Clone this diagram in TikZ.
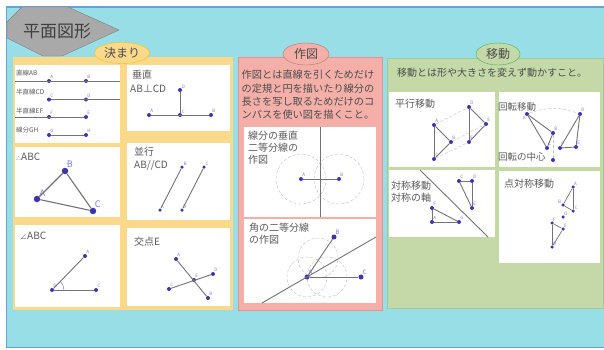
\documentclass[tikz,border=0pt]{standalone}
\usepackage{fontspec}
\setmainfont{Noto Sans CJK JP}
\usetikzlibrary{shapes.geometric}

\definecolor{seabg}{HTML}{97DEE6}
\definecolor{seaedge}{HTML}{5FA3E0}
\definecolor{yellowbg}{HTML}{FBD98A}
\definecolor{pinkbg}{HTML}{F4AFA9}
\definecolor{pinkedge}{HTML}{E8918C}
\definecolor{greenbg}{HTML}{C4D9A7}
\definecolor{greenedge}{HTML}{9CCB9C}
\definecolor{dotblue}{HTML}{3F34B0}
\definecolor{lblblue}{HTML}{7C78EC}
\definecolor{inkgray}{HTML}{5A5A5A}
\definecolor{hexgray}{HTML}{A9A9A9}

\begin{document}
\begin{tikzpicture}[x=1pt,y=-1pt]
            \tikzstyle{card}=[fill=white]
            \tikzstyle{txt}=[inner sep=0,anchor=west,text=inkgray,font=\fontsize{10}{12}\selectfont]
            \tikzstyle{rot}=[txt,font=\fontsize{9.5}{11}\selectfont]
            \tikzstyle{small}=[inner sep=0,anchor=west,text=inkgray,font=\fontsize{6.5}{8}\selectfont]
            \tikzstyle{body}=[inner sep=0,anchor=west,text=black!70,font=\fontsize{10.2}{12}\selectfont]
            \tikzstyle{oval}=[ellipse,inner sep=0,text=black!70,font=\fontsize{12}{14}\selectfont]
            \tikzstyle{lbl}=[inner sep=0,text=lblblue,font=\fontsize{4.5}{5}\selectfont]
            \tikzstyle{big}=[inner sep=0,text=lblblue,font=\fontsize{9}{10}\selectfont]
            \tikzstyle{mid}=[inner sep=0,text=lblblue,font=\fontsize{6}{7}\selectfont]
            \tikzstyle{dot}=[circle,fill=dotblue,inner sep=0,minimum size=4pt,label distance=1pt]
            \tikzstyle{fat}=[dot,minimum size=6.5pt]
            \tikzstyle{tiny}=[dot,minimum size=3.5pt]
            \tikzstyle{seg}=[draw=gray!90!black,line width=0.9pt]
            \tikzstyle{guide}=[draw=gray!50,line width=0.4pt,densely dashed]

            \useasboundingbox (0,0) rectangle (604,349);
            \fill[white] (0,0) rectangle (604,349);
            \draw[fill=seabg,draw=seaedge,line width=1.5pt] (6.5,7) rectangle (610,347.5);

            % title
            \draw[fill=hexgray,draw=gray,line width=0.4pt]
                (7,22) -- (22,7) -- (68,7) -- (119,30) -- (62,56) -- (43,56) -- (7,38) -- cycle;
            \node[inner sep=0,text=black!75,font=\fontsize{17}{19}\selectfont] (title) at (57,31) {平面図形};

            % panels
            \fill[yellowbg] (13,57) rectangle (233,310);
            \draw[fill=pinkbg,draw=pinkedge,line width=0.8pt] (238,57) rectangle (382,310);
            \draw[fill=greenbg,draw=greenedge,line width=0.8pt] (387,58) rectangle (603,308);

            \node[oval,fill=yellowbg,draw=orange!50!yellow,minimum width=55pt,minimum height=21pt] (rule) at (122,53) {決まり};
            \node[oval,fill=pinkbg,draw=pinkedge!80!black,minimum width=46pt,minimum height=22pt] (draft) at (306,54) {作図};
            \node[oval,fill=greenbg,draw=green!40!gray,minimum width=44pt,minimum height=22pt] (move) at (498,54) {移動};

            % cards
            \fill[card] (15,65) rectangle (120,143);
            \fill[card] (127,65) rectangle (230,131);
            \fill[card] (15,147) rectangle (120,217);
            \fill[card] (127,143) rectangle (230,220);
            \fill[card] (15,225) rectangle (120,307);
            \fill[card] (127,228) rectangle (230,306);
            \fill[card] (244,127) rectangle (376,217);
            \fill[card] (244,219) rectangle (376,303);
            \fill[card] (389,92) rectangle (495,167);
            \fill[card] (499,92) rectangle (600,167);
            \fill[card] (389,170) rectangle (495,237);
            \fill[card] (499,171) rectangle (600,263);

            % lines, rays, segments
            \node[small] (t1) at (16,73) {直線AB};
            \node[small] (t2) at (16,92) {半直線CD};
            \node[small] (t3) at (16,111) {半直線EF};
            \node[small] (t4) at (16,130) {線分GH};
            \coordinate (l1a) at (15,81);
            \coordinate (l1b) at (120,81);
            \coordinate (l2b) at (120,99.5);
            \coordinate (l3a) at (15,117);
            \node[dot,label={[lbl]60:A}] (a1) at (49,81) {};
            \node[dot,label={[lbl]60:B}] (b1) at (86,81) {};
            \node[dot,label={[lbl]60:C}] (c1) at (49,99.5) {};
            \node[dot,label={[lbl]60:D}] (d1) at (86,99.5) {};
            \node[dot,label={[lbl]60:F}] (f1) at (49,117) {};
            \node[dot,label={[lbl]60:E}] (e1) at (86,117) {};
            \node[dot,label={[lbl]60:G}] (g1) at (49,135) {};
            \node[dot,label={[lbl]60:H}] (h1) at (86,135) {};
            \path[seg]
                (l1a) edge (l1b)
                (c1) edge (l2b)
                (l3a) edge (e1)
                (g1) edge (h1)
                ;

            % perpendicular
            \node[txt] (t5) at (132,75) {垂直};
            \node[txt] (t6) at (130,89) {AB⊥CD};
            \node[dot,label={[lbl]45:D}] (d2) at (180,90) {};
            \node[dot,label={[lbl]45:C}] (c2) at (180,115) {};
            \node[dot,label={[lbl]60:A}] (a2) at (149,115) {};
            \node[dot,label={[lbl]60:B}] (b2) at (211,115) {};
            \path[seg]
                (a2) edge (b2)
                (d2) edge (c2)
                ;

            % triangle
            \node[txt] (t7) at (16,157) {{\fontsize{5}{5}\selectfont △}ABC};
            \node[fat,label={[big]45:A}] (a3) at (37,199) {};
            \node[fat,label={[big]60:B}] (b3) at (65,171) {};
            \node[fat,label={[big]60:C}] (c3) at (93,211) {};
            \path[seg,line width=1.1pt]
                (a3) edge (b3)
                (b3) edge (c3)
                (c3) edge (a3)
                ;

            % parallel
            \node[txt] (t8) at (134,152) {並行};
            \node[txt] (t9) at (134,165) {AB//CD};
            \node[tiny,label={[lbl]45:B}] (b4) at (182,167) {};
            \node[tiny,label={[lbl]45:C}] (c4) at (204,167) {};
            \node[tiny,label={[lbl]60:A}] (a4) at (160,210) {};
            \node[tiny,label={[lbl]60:D}] (d4) at (182,210) {};
            \path[seg]
                (a4) edge (b4)
                (d4) edge (c4)
                ;

            % angle
            \node[txt] (t10) at (20,236) {{\fontsize{7}{7}\selectfont ∠}ABC};
            \node[dot,label={[lbl]60:A}] (a5) at (85,256) {};
            \node[dot,label={[lbl]60:B}] (b5) at (52,290) {};
            \node[dot,label={[lbl]60:C}] (c5) at (96,290) {};
            \path[seg]
                (b5) edge (a5)
                (b5) edge (c5)
                ;
            \draw[lblblue,line width=0.5pt] (64,290) arc[start angle=0,end angle=48,radius=12pt];

            % intersection
            \node[txt] (t11) at (134,242) {交点E};
            \node[dot,label={[lbl]60:A}] (a6) at (176,259) {};
            \node[dot,label={[lbl]60:B}] (b6) at (208,298) {};
            \node[dot,label={[lbl]60:C}] (c6) at (169,289) {};
            \node[dot,label={[lbl]60:D}] (d6) at (213,274) {};
            \node[dot,label={[lbl]60:E}] (e6) at (194,280) {};
            \path[seg]
                (a6) edge (b6)
                (c6) edge (d6)
                ;

            % construction text
            \node[body] (t12) at (241.5,75) {作図とは直線を引くためだけ};
            \node[body] (t13) at (241.5,88.5) {の定規と円を描いたり線分の};
            \node[body] (t14) at (241.5,102) {長さを写し取るためだけのコ};
            \node[body] (t15) at (241.5,115) {ンパスを使い図を描くこと。};

            % perpendicular bisector
            \node[txt] (t16) at (248,136) {線分の垂直};
            \node[txt] (t17) at (248,148) {二等分線の};
            \node[txt] (t18) at (248,160) {作図};
            \draw[guide] (301,179) circle (25pt) (339,179) circle (25pt);
            \coordinate (v1) at (320,127);
            \coordinate (v2) at (320,217);
            \node[dot,label={[lbl]60:A}] (a7) at (301,179) {};
            \node[dot,label={[lbl]60:B}] (b7) at (339,179) {};
            \path[seg]
                (v1) edge (v2)
                (a7) edge (b7)
                ;

            % angle bisector
            \node[txt] (t19) at (249,228) {角の二等分線};
            \node[txt] (t20) at (249,240) {の作図};
            \draw[guide] (307,277) circle (20pt) (318,258) circle (20pt) (327,277) circle (20pt);
            \coordinate (w1) at (262,303);
            \coordinate (w2) at (376,237);
            \node[dot,minimum size=5pt,label={[mid]60:A}] (a8) at (307,277) {};
            \node[dot,minimum size=5pt,label={[mid]60:B}] (b8) at (334,237) {};
            \node[dot,minimum size=5pt,label={[mid]60:C}] (c8) at (361,277) {};
            \path[seg]
                (a8) edge (b8)
                (a8) edge (c8)
                (w1) edge (w2)
                ;

            % moving text
            \node[body,font=\fontsize{10}{12}\selectfont] (t21) at (397,73) {移動とは形や大きさを変えず動かすこと。};

            % translation
            \node[txt] (t22) at (395,104) {平行移動};
            \node[dot,label={[lbl]60:A}] (a9) at (434,125) {};
            \node[dot,label={[lbl]60:B}] (b9) at (451,142) {};
            \node[dot,label={[lbl]60:C}] (c9) at (434,159) {};
            \node[dot,label={[lbl]60:D}] (d9) at (469,107) {};
            \node[dot,label={[lbl]60:E}] (e9) at (486,124) {};
            \node[dot,label={[lbl]60:F}] (f9) at (469,142) {};
            \path[seg]
                (a9) edge (b9)
                (b9) edge (c9)
                (c9) edge (a9)
                (d9) edge (e9)
                (e9) edge (f9)
                (f9) edge (d9)
                ;
            \path[guide]
                (a9) edge (d9)
                (b9) edge (e9)
                (c9) edge (f9)
                ;

            % rotation
            \node[rot] (t23) at (498,107) {回転移動};
            \node[rot] (t24) at (498,157) {回転の中心};
            \node[dot,label={[lbl]-120:A}] (a10) at (527,114) {};
            \node[dot,label={[lbl]60:B}] (b10) at (553,133) {};
            \node[dot,label={[lbl]60:C}] (c10) at (547,148) {};
            \node[dot] (o10) at (553,160) {};
            \node[dot,label={[lbl]60:D}] (d10) at (580,114) {};
            \node[dot,label={[lbl]60:E}] (e10) at (576,147) {};
            \node[dot,label={[lbl]60:F}] (f10) at (560,148) {};
            \path[seg]
                (a10) edge (b10)
                (b10) edge (c10)
                (c10) edge (a10)
                (d10) edge (e10)
                (e10) edge (f10)
                (f10) edge (d10)
                ;
            \path[guide]
                (a10) edge [bend left=20] (d10)
                (o10) edge (b10)
                ;

            % reflection
            \node[txt] (t25) at (391,186) {対称移動};
            \node[txt] (t26) at (391,198) {対称の軸};
            \coordinate (x1) at (420,170);
            \coordinate (x2) at (488,237);
            \node[dot,label={[lbl]60:C}] (c11) at (459,181) {};
            \node[dot,label={[lbl]60:D}] (d11) at (472,181) {};
            \node[dot,label={[lbl]60:E}] (e11) at (472,208) {};
            \node[dot,label={[lbl]60:F}] (f11) at (432,208) {};
            \node[dot,label={[lbl]60:A}] (a11) at (432,222) {};
            \node[dot,label={[lbl]60:G}] (g11) at (459,222) {};
            \path[seg]
                (x1) edge (x2)
                (c11) edge (d11)
                (d11) edge (e11)
                (e11) edge (c11)
                (f11) edge (a11)
                (a11) edge (g11)
                (g11) edge (f11)
                ;

            % point reflection
            \node[txt] (t27) at (504,184) {点対称移動};
            \node[tiny,label={[lbl]60:A}] (a12) at (573,187) {};
            \node[tiny,label={[lbl]150:B}] (b12) at (563,205) {};
            \node[tiny,label={[lbl]30:C}] (c12) at (573,211) {};
            \node[tiny,label={[lbl]60:O}] (o12) at (563,217) {};
            \node[tiny,label={[lbl]60:F}] (f12) at (552,223) {};
            \node[tiny,label={[lbl]60:E}] (e12) at (563,229) {};
            \node[tiny,label={[lbl]60:D}] (d12) at (552,247) {};
            \path[seg,line width=0.7pt]
                (a12) edge (b12)
                (b12) edge (c12)
                (c12) edge (a12)
                (f12) edge (e12)
                (e12) edge (d12)
                (d12) edge (f12)
                ;
        \end{tikzpicture}
\end{document}
